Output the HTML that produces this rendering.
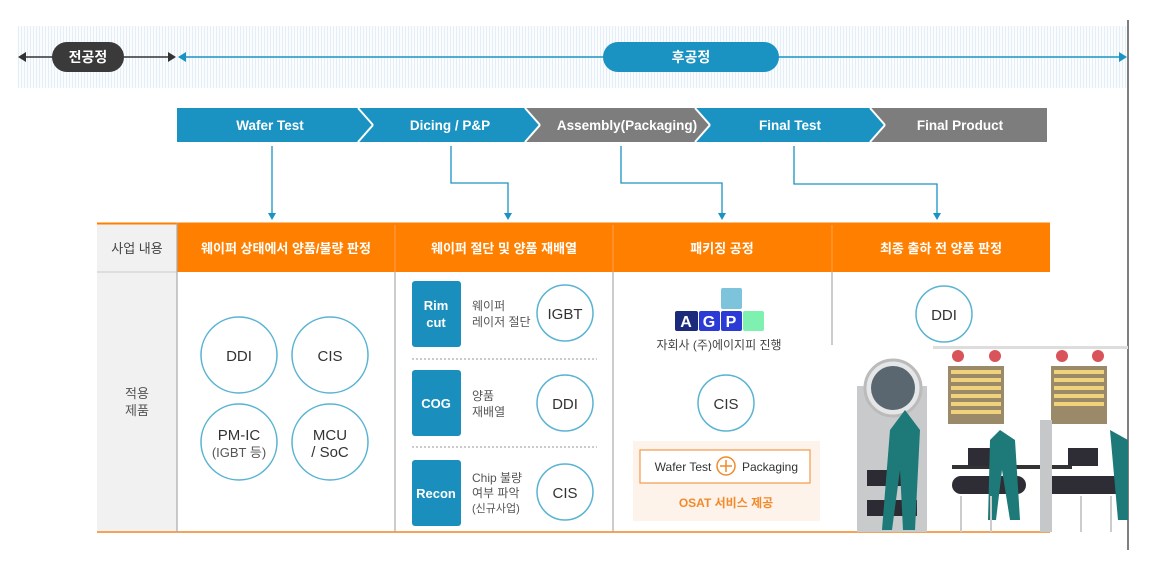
<!DOCTYPE html>
<html><head><meta charset="utf-8"><style>
body{margin:0;width:1158px;height:575px;background:#fff;overflow:hidden;font-family:"Liberation Sans","Noto Sans CJK KR",sans-serif}
</style></head><body>
<svg width="1158" height="575" viewBox="0 0 1158 575" xmlns="http://www.w3.org/2000/svg" font-family="Liberation Sans, Noto Sans CJK KR, sans-serif">
<defs>
<pattern id="st" width="3" height="10" patternUnits="userSpaceOnUse"><rect width="3" height="10" fill="#fafcfe"/><rect width="1" height="10" fill="#e3eef6"/></pattern>
</defs>
<rect x="17" y="26" width="1111" height="62" fill="url(#st)"/>
<line x1="1128" y1="20" x2="1128" y2="550" stroke="#555" stroke-width="1.5"/>
<line x1="22" y1="57" x2="172" y2="57" stroke="#333" stroke-width="1.5"/>
<polygon points="18,57 26,52 26,62" fill="#333"/><polygon points="176,57 168,52 168,62" fill="#333"/>
<line x1="180" y1="57" x2="1122" y2="57" stroke="#1a93c3" stroke-width="1.5"/>
<polygon points="178,57 186,52 186,62" fill="#1a93c3"/><polygon points="1127,57 1119,52 1119,62" fill="#1a93c3"/>
<rect x="52" y="42" width="72" height="30" rx="15" fill="#3a3a3a"/>
<text x="88" y="62" fill="#fff" font-size="14" font-weight="bold" text-anchor="middle">전공정</text>
<rect x="603" y="42" width="176" height="30" rx="15" fill="#1a93c3"/>
<text x="691" y="62" fill="#fff" font-size="14" font-weight="bold" text-anchor="middle">후공정</text>
<g font-size="13.5" font-weight="bold" fill="#fff" text-anchor="middle">
<polygon points="1047,108 870,108 885,125 870,142 1047,142" fill="#7d7d7d"/>
<polygon points="695,108 870,108 885,125 870,142 695,142 710,125" fill="#1a93c3"/>
<polygon points="525,108 695,108 710,125 695,142 525,142 540,125" fill="#7d7d7d"/>
<polygon points="358,108 525,108 540,125 525,142 358,142 373,125" fill="#1a93c3"/>
<polygon points="177,108 358,108 373,125 358,142 177,142" fill="#1a93c3"/>
<line x1="358" y1="108" x2="373" y2="125" stroke="#fff" stroke-width="2"/><line x1="373" y1="125" x2="358" y2="142" stroke="#fff" stroke-width="2"/>
<line x1="525" y1="108" x2="540" y2="125" stroke="#fff" stroke-width="2"/><line x1="540" y1="125" x2="525" y2="142" stroke="#fff" stroke-width="2"/>
<line x1="695" y1="108" x2="710" y2="125" stroke="#fff" stroke-width="2"/><line x1="710" y1="125" x2="695" y2="142" stroke="#fff" stroke-width="2"/>
<line x1="870" y1="108" x2="885" y2="125" stroke="#fff" stroke-width="2"/><line x1="885" y1="125" x2="870" y2="142" stroke="#fff" stroke-width="2"/>
<text x="270" y="130">Wafer Test</text>
<text x="450" y="130">Dicing / P&amp;P</text>
<text x="627" y="130">Assembly(Packaging)</text>
<text x="790" y="130">Final Test</text>
<text x="960" y="130">Final Product</text>
</g>
<g stroke="#1a93c3" stroke-width="1.3" fill="none">
<polyline points="272,146 272,214"/>
<polyline points="451,146 451,183 508,183 508,214"/>
<polyline points="621,146 621,183 722,183 722,214"/>
<polyline points="794,146 794,184 937,184 937,214"/>
</g>
<g fill="#1a93c3">
<polygon points="268,213 276,213 272,220"/><polygon points="504,213 512,213 508,220"/>
<polygon points="718,213 726,213 722,220"/><polygon points="933,213 941,213 937,220"/>
</g>
<rect x="97" y="223" width="80" height="309" fill="#f1f1f1"/>
<rect x="177" y="223" width="873" height="49" fill="#ff8000"/>
<line x1="97" y1="223.5" x2="1050" y2="223.5" stroke="#ff8000" stroke-width="2"/>
<line x1="97" y1="272" x2="177" y2="272" stroke="#ccc"/>
<line x1="97" y1="532" x2="1050" y2="532" stroke="#f6a35a" stroke-width="2"/>
<g stroke="#aaa" stroke-width="1.2"><line x1="177" y1="223" x2="177" y2="532"/><line x1="395" y1="272" x2="395" y2="532"/><line x1="613" y1="272" x2="613" y2="532"/><line x1="832" y1="272" x2="832" y2="345"/></g>
<g stroke="#ffa04a" stroke-width="1"><line x1="395" y1="225" x2="395" y2="272"/><line x1="613" y1="225" x2="613" y2="272"/><line x1="832" y1="225" x2="832" y2="272"/></g>
<g font-size="13" fill="#fff" text-anchor="middle" font-weight="bold">
<text x="286" y="253">웨이퍼 상태에서 양품/불량 판정</text>
<text x="504" y="253">웨이퍼 절단 및 양품 재배열</text>
<text x="722" y="253">패키징 공정</text>
<text x="941" y="253">최종 출하 전 양품 판정</text>
</g>
<text x="137" y="253" font-size="13" fill="#444" text-anchor="middle">사업 내용</text>
<text x="137" y="398" font-size="13" fill="#555" text-anchor="middle">적용</text>
<text x="137" y="415" font-size="13" fill="#555" text-anchor="middle">제품</text>
<g fill="#fff" stroke="#5ab3d3" stroke-width="1.5">
<circle cx="239" cy="355" r="38"/><circle cx="330" cy="355" r="38"/><circle cx="239" cy="442" r="38"/><circle cx="330" cy="442" r="38"/>
<circle cx="565" cy="313" r="28"/><circle cx="565" cy="403" r="28"/><circle cx="565" cy="492" r="28"/>
<circle cx="726" cy="403" r="28"/><circle cx="944" cy="314" r="28"/>
</g>
<g font-size="15" fill="#333" text-anchor="middle">
<text x="239" y="361">DDI</text><text x="330" y="361">CIS</text>
<text x="239" y="440">PM-IC</text><text x="239" y="457" font-size="13" fill="#555">(IGBT 등)</text>
<text x="330" y="440">MCU</text><text x="330" y="457">/ SoC</text>
<text x="565" y="319">IGBT</text><text x="565" y="409">DDI</text><text x="565" y="498">CIS</text>
<text x="726" y="409">CIS</text><text x="944" y="320">DDI</text>
</g>
<g fill="#1a8fbd"><rect x="412" y="281" width="49" height="66" rx="3"/><rect x="412" y="370" width="49" height="66" rx="3"/><rect x="412" y="460" width="49" height="66" rx="3"/></g>
<g font-size="13" font-weight="bold" fill="#fff" text-anchor="middle">
<text x="436" y="310">Rim</text><text x="436" y="327">cut</text><text x="436" y="408">COG</text><text x="436" y="498">Recon</text>
</g>
<g stroke="#999" stroke-dasharray="2,2"><line x1="412" y1="359" x2="597" y2="359"/><line x1="412" y1="447" x2="597" y2="447"/></g>
<g font-size="12" fill="#555">
<text x="472" y="310">웨이퍼</text><text x="472" y="326">레이저 절단</text>
<text x="472" y="400">양품</text><text x="472" y="416">재배열</text>
<text x="472" y="482">Chip 불량</text><text x="472" y="497">여부 파악</text><text x="472" y="512" font-size="11">(신규사업)</text>
</g>
<rect x="721" y="288" width="21" height="21" rx="2" fill="#7ec3dc"/>
<rect x="675" y="311" width="23" height="20" rx="2" fill="#1b2a7a"/>
<rect x="699" y="311" width="21" height="20" rx="2" fill="#2c3bd6"/>
<rect x="721" y="311" width="21" height="20" rx="2" fill="#2c3bd6"/>
<rect x="743" y="311" width="21" height="20" rx="2" fill="#7ef0b0"/>
<g font-size="16" font-weight="bold" fill="#fff" text-anchor="middle"><text x="686" y="327">A</text><text x="709" y="327">G</text><text x="731" y="327">P</text></g>
<text x="719" y="349" font-size="12" fill="#444" text-anchor="middle">자회사 (주)에이지피 진행</text>
<rect x="633" y="441" width="187" height="80" fill="#fdf3ea"/>
<rect x="640" y="450" width="170" height="33" fill="#fff" stroke="#f29a4a" stroke-width="1.2"/>
<circle cx="726" cy="466" r="9" fill="#fff" stroke="#f28a2a" stroke-width="1.5"/>
<path d="M726 460v12M720 466h12" stroke="#f28a2a" stroke-width="1.5"/>
<text x="683" y="471" font-size="12" fill="#333" text-anchor="middle">Wafer Test</text>
<text x="770" y="471" font-size="12" fill="#333" text-anchor="middle">Packaging</text>
<text x="726" y="507" font-size="12" fill="#f28a2a" text-anchor="middle" font-weight="bold">OSAT 서비스 제공</text>
<g>
<rect x="933" y="346" width="195" height="3" fill="#ddd"/>
<rect x="948" y="366" width="56" height="58" fill="#9a8a6a"/>
<g fill="#f0d27a"><rect x="951" y="370" width="50" height="4"/><rect x="951" y="378" width="50" height="4"/><rect x="951" y="386" width="50" height="4"/><rect x="951" y="394" width="50" height="4"/><rect x="951" y="402" width="50" height="4"/><rect x="951" y="410" width="50" height="4"/></g>
<rect x="1051" y="366" width="56" height="58" fill="#9a8a6a"/>
<g fill="#f0d27a"><rect x="1054" y="370" width="50" height="4"/><rect x="1054" y="378" width="50" height="4"/><rect x="1054" y="386" width="50" height="4"/><rect x="1054" y="394" width="50" height="4"/><rect x="1054" y="402" width="50" height="4"/></g>
<g fill="#d9535a"><circle cx="958" cy="356" r="6"/><circle cx="995" cy="356" r="6"/><circle cx="1062" cy="356" r="6"/><circle cx="1098" cy="356" r="6"/></g>
<rect x="857" y="386" width="70" height="146" fill="#c8cacc"/>
<rect x="867" y="470" width="50" height="16" fill="#2c2a33"/><rect x="867" y="500" width="50" height="16" fill="#2c2a33"/>
<circle cx="893" cy="388" r="28" fill="#e4e6e8" stroke="#bbb" stroke-width="3"/>
<circle cx="893" cy="388" r="22" fill="#5b6770"/>
<rect x="952" y="465" width="120" height="4" fill="#333"/>
<rect x="952" y="476" width="74" height="18" rx="9" fill="#2e2c35"/>
<rect x="1042" y="476" width="86" height="18" rx="9" fill="#2e2c35"/>
<rect x="1040" y="420" width="12" height="112" fill="#c5c7c9"/>
<rect x="968" y="448" width="30" height="18" fill="#2e2c35"/><rect x="1068" y="448" width="30" height="18" fill="#2e2c35"/>
<path d="M905 410 l15 20 l-5 100 h-12 l-3 -60 l-8 60 h-10 l8 -100 z" fill="#1d7a78"/>
<path d="M1000 430 l15 10 l5 80 h-10 l-8 -50 l-6 50 h-8 l2 -80 z" fill="#1d7a78"/>
<path d="M1110 430 l18 10 v80 h-10 z" fill="#1d7a78"/>
<g fill="#ccc"><rect x="960" y="496" width="2" height="36"/><rect x="990" y="496" width="2" height="36"/><rect x="1080" y="496" width="2" height="36"/><rect x="1110" y="496" width="2" height="36"/></g>
</g>
</svg>
</body></html>
